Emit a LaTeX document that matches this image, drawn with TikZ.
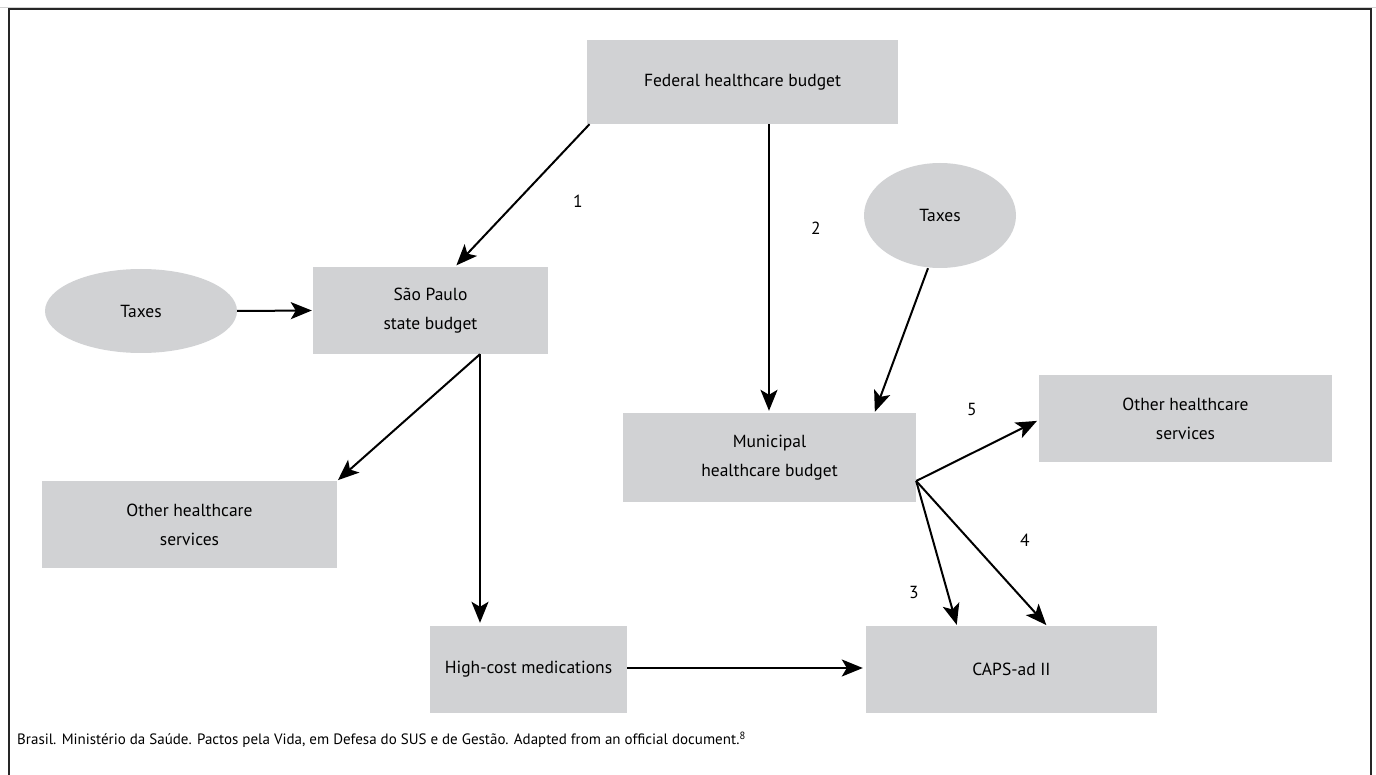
\documentclass[tikz,border=0pt]{standalone}
\usepackage{fontspec}
\setmainfont{PT Sans}
\usetikzlibrary{shapes.geometric,arrows.meta,calc}
\definecolor{boxgray}{HTML}{D1D2D4}
\begin{document}
\begin{tikzpicture}[x=1pt,y=-1pt,
  box/.style={fill=boxgray, draw=none, minimum height=87pt, align=center, inner sep=0pt,
    font=\fontsize{17.5}{29}\selectfont},
  ell/.style={ellipse, fill=boxgray, draw=none, inner sep=0pt, font=\fontsize{17.5}{20}\selectfont},
  lbl/.style={font=\fontsize{17.5}{20}\selectfont, inner sep=0pt},
  arr/.style={line width=2pt, -{Stealth[length=21pt,width=17pt,inset=5pt]}}]
\useasboundingbox (0,0) rectangle (1376,775);
\draw[gray!35, line width=1pt] (0,7.5) -- (1376,7.5);
\draw[line width=1.6pt, black!85] (9,780) -- (9,9) -- (1371,9) -- (1371,780);

\node[box, minimum width=311pt, minimum height=84pt] (fed) at (742.5,82) {Federal healthcare budget};
\node[box, minimum width=235pt] (sp) at (430.5,310.5) {São Paulo\\state budget};
\node[ell, minimum width=192pt, minimum height=84pt] (taxL) at (141,311) {Taxes};
\node[ell, minimum width=152pt, minimum height=105pt] (taxR) at (940,215.5) {Taxes};
\node[box, minimum width=293pt, minimum height=89pt] (mun) at (769.5,457.5) {Municipal\\healthcare budget};
\node[box, minimum width=293pt] (othR) at (1185.5,418.5) {Other healthcare\\services};
\node[box, minimum width=295pt] (othL) at (189.5,524.5) {Other healthcare\\services};
\node[box, minimum width=197pt] (hc) at (528.5,669.5) {High-cost medications};
\node[box, minimum width=291pt] (caps) at (1011.5,669.5) {CAPS-ad II};

\coordinate (fork) at ($(mun.east)+(0,23.5)$);

\draw[arr, shorten >=2pt] ([xshift=-153pt]fed.south) -- ([xshift=24.5pt]sp.north);
\draw[arr, shorten >=2pt] ([xshift=26.5pt]fed.south) -- ([xshift=-0.5pt]mun.north);
\draw[arr, shorten >=1pt] ([xshift=-12pt]taxR.south) -- ([xshift=105pt]mun.north);
\draw[arr, shorten >=1pt] (taxL.east) -- (sp.west);
\draw[arr, shorten >=1pt] ([xshift=49.5pt]sp.south) -- (othL.north east);
\draw[arr, shorten >=3pt] ([xshift=49.5pt]sp.south) -- ([xshift=-48.5pt]hc.north);
\draw[arr, shorten >=3pt] ([yshift=1.5pt]hc.east) -- ([yshift=1.5pt]caps.west);
\draw[arr, shorten >=2pt] (fork) -- ([yshift=-1.5pt]othR.west);
\draw[arr, shorten >=1pt] (fork) -- ([xshift=-54.5pt]caps.north);
\draw[arr, shorten >=1pt] (fork) -- ([xshift=35.5pt]caps.north);

\node[lbl] (l1) at (578,201) {1};
\node[lbl] (l2) at (816,228) {2};
\node[lbl] (l5) at (972,409) {5};
\node[lbl] (l4) at (1025,540) {4};
\node[lbl] (l3) at (914,592) {3};

\node[anchor=west, inner sep=0pt, font=\fontsize{15}{17}\selectfont] (src) at (17,740)
  {Brasil. Ministério da Saúde. Pactos pela Vida, em Defesa do SUS e de Gestão. Adapted from an official document.\textsuperscript{8}};
\end{tikzpicture}
\end{document}
